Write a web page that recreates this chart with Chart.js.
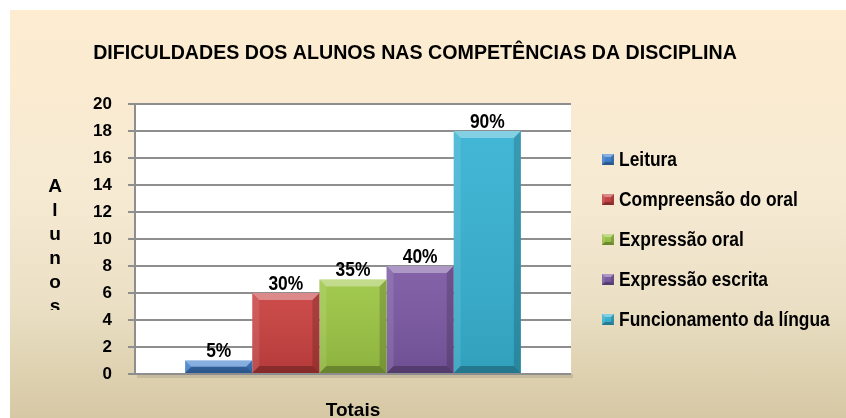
<!DOCTYPE html>
<html>
<head>
<meta charset="utf-8">
<script src="https://cdn.jsdelivr.net/npm/chart.js@4.4.1/dist/chart.umd.min.js"></script>
<style>
  html, body { margin: 0; padding: 0; background: #fff; }
  #wrap {
    position: absolute; left: 10px; top: 10px; width: 836px; height: 408px;
    background: linear-gradient(180deg, #fdecd0 0%, #f6ead3 45%, #ebe0c5 72%, #d6c8a4 100%);
  }
  canvas { display: block; }
</style>
</head>
<body>
<div id="wrap"><canvas id="grafico" width="836" height="408"></canvas></div>
<script>
// dados do gráfico
const categorias = ['Totais'];
const competencias = ['Leitura', 'Compreensão do oral', 'Expressão oral', 'Expressão escrita', 'Funcionamento da língua'];
const alunos = [1, 6, 7, 8, 18];
const percentagens = ['5%', '30%', '35%', '40%', '90%'];
const cores = ['#3d7fcf', '#c8403f', '#9cc544', '#7b58a3', '#36b2d2'];
const yTicks = [0, 2, 4, 6, 8, 10, 12, 14, 16, 18, 20];
const titulo = 'DIFICULDADES DOS ALUNOS NAS COMPETÊNCIAS DA DISCIPLINA';
const tituloY = 'Alunos';

const FONTE = "'Liberation Sans', Arial, sans-serif";

// texto "estreito": a fonte narrow não existe, por isso comprime-se na horizontal
function textoEstreito(ctx, txt, x, y, escala) {
  ctx.save();
  ctx.translate(x, y);
  ctx.scale(escala, 1);
  ctx.fillText(txt, 0, 0);
  ctx.restore();
}

// efeito 3D (bisel) nas barras
function bisel(ctx, l, t, r, b, d) {
  const quad = (pts, fill) => {
    ctx.beginPath();
    ctx.moveTo(pts[0][0], pts[0][1]);
    pts.slice(1).forEach(p => ctx.lineTo(p[0], p[1]));
    ctx.closePath();
    ctx.fillStyle = fill;
    ctx.fill();
  };
  const g = ctx.createLinearGradient(0, t, 0, b);
  g.addColorStop(0, 'rgba(255,255,255,0.06)');
  g.addColorStop(1, 'rgba(0,0,0,0.10)');
  ctx.fillStyle = g;
  ctx.fillRect(l, t, r - l, b - t);
  quad([[l, t], [r, t], [r - d, t + d], [l + d, t + d]], 'rgba(255,255,255,0.35)');
  quad([[l, t], [l + d, t + d], [l + d, b - d], [l, b]], 'rgba(255,255,255,0.10)');
  quad([[r, t], [r, b], [r - d, b - d], [r - d, t + d]], 'rgba(0,0,0,0.16)');
  quad([[l, b], [l + d, b - d], [r - d, b - d], [r, b]], 'rgba(0,0,0,0.25)');
}

const fundoArea = {
  id: 'fundoArea',
  beforeDraw(chart) {
    const { ctx, chartArea: a } = chart;
    ctx.save();
    ctx.fillStyle = 'rgba(0,0,0,0.10)';
    ctx.fillRect(a.left + 2, a.bottom, a.right - a.left, 4);
    ctx.fillStyle = '#ffffff';
    ctx.fillRect(a.left, a.top, a.right - a.left, a.bottom - a.top);
    ctx.restore();
  }
};

const barras3d = {
  id: 'barras3d',
  afterDatasetsDraw(chart) {
    const ctx = chart.ctx;
    ctx.save();
    chart.data.datasets.forEach((ds, i) => {
      const bar = chart.getDatasetMeta(i).data[0];
      const l = bar.x - bar.width / 2, r = bar.x + bar.width / 2;
      const t = bar.y, b = bar.base;
      bisel(ctx, l, t, r, b, Math.min(7, (b - t) / 2));
      ctx.fillStyle = '#000';
      ctx.font = 'bold 20px ' + FONTE;
      ctx.textAlign = 'center';
      ctx.textBaseline = 'alphabetic';
      textoEstreito(ctx, percentagens[i], bar.x, t - 3.5, 0.87);
    });
    ctx.restore();
  }
};

const decoracao = {
  id: 'decoracao',
  afterDraw(chart) {
    const ctx = chart.ctx;
    ctx.save();
    ctx.fillStyle = '#000';
    // título
    ctx.font = 'bold 21px ' + FONTE;
    ctx.textAlign = 'center';
    ctx.textBaseline = 'alphabetic';
    textoEstreito(ctx, titulo, 405, 49, 0.935);
    // título do eixo Y, letras empilhadas (cortado em baixo)
    ctx.save();
    ctx.beginPath();
    ctx.rect(0, 0, 120, 300);
    ctx.clip();
    ctx.font = 'bold 19px ' + FONTE;
    tituloY.split('').forEach((ch, k) => ctx.fillText(ch, 45, 182 + k * 24));
    ctx.restore();
    // legenda
    ctx.font = 'bold 20px ' + FONTE;
    ctx.textAlign = 'left';
    ctx.textBaseline = 'middle';
    competencias.forEach((nome, i) => {
      const cy = 149.5 + i * 40;
      ctx.fillStyle = cores[i];
      ctx.fillRect(592, cy - 5.5, 12, 11);
      bisel(ctx, 592, cy - 5.5, 604, cy + 5.5, 3);
      ctx.fillStyle = '#000';
      textoEstreito(ctx, nome, 609, cy + 1, 0.87);
    });
    ctx.restore();
  }
};

new Chart(document.getElementById('grafico'), {
  type: 'bar',
  data: {
    labels: categorias,
    datasets: competencias.map((nome, i) => ({
      label: nome,
      data: [alunos[i]],
      backgroundColor: cores[i],
      borderWidth: 0,
      categoryPercentage: 0.77,
      barPercentage: 1,
    }))
  },
  options: {
    responsive: false,
    animation: false,
    devicePixelRatio: 1,
    layout: { padding: { left: 0, right: 275, top: 94, bottom: 0 } },
    plugins: {
      legend: { display: false },
      title: { display: false },
      tooltip: { enabled: false },
    },
    scales: {
      x: {
        grid: { display: false },
        border: { display: false },
        ticks: {
          color: '#000',
          padding: 17,
          font: { family: FONTE, size: 19, weight: 'bold' },
        },
        afterFit: s => { s.height = 44; },
      },
      y: {
        min: 0,
        max: 20,
        afterBuildTicks: s => { s.ticks = yTicks.map(v => ({ value: v })); },
        grid: { color: '#8e8e8e', lineWidth: 2, tickLength: 7 },
        border: { display: true, color: '#8e8e8e', width: 2 },
        ticks: {
          color: '#000',
          padding: 16,
          font: { family: FONTE, size: 17, weight: 'bold' },
        },
        afterFit: s => { s.width = 125; },
      }
    }
  },
  plugins: [fundoArea, barras3d, decoracao]
});
</script>
</body>
</html>
